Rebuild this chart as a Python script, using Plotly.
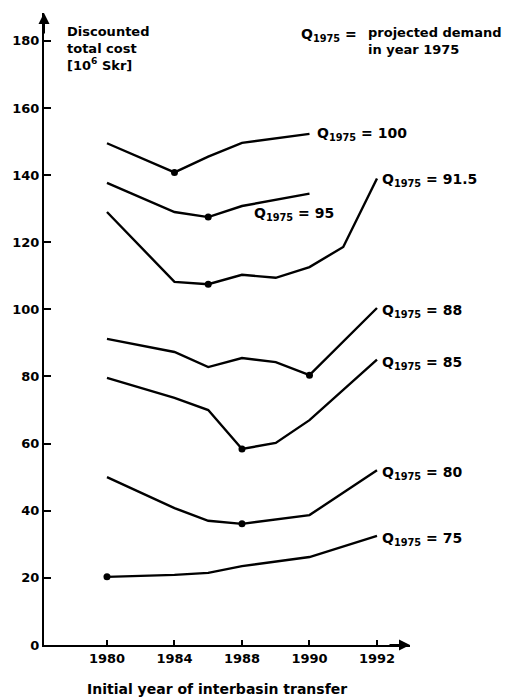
import numpy as np
import plotly.graph_objects as go

# ---- data ----
tick_years = [1980, 1984, 1988, 1990, 1992]
tick_labels = ["1980", "1984", "1988", "1990", "1992"]
y_ticks = [0, 20, 40, 60, 80, 100, 120, 140, 160, 180]

q_labels = ["100", "95", "91.5", "88", "85", "80", "75"]

years_100 = [1980, 1984, 1986, 1988, 1990]
cost_100 = [149.5, 140.8, 145.5, 149.6, 152.3]

years_95 = [1980, 1984, 1986, 1988, 1990]
cost_95 = [137.7, 129.0, 127.5, 130.8, 134.5]

years_915 = [1980, 1984, 1986, 1988, 1989, 1990, 1991, 1992]
cost_915 = [129.0, 108.2, 107.5, 110.3, 109.4, 112.6, 118.6, 139.0]

years_88 = [1980, 1984, 1986, 1988, 1989, 1990, 1992]
cost_88 = [91.2, 87.3, 82.8, 85.5, 84.3, 80.4, 100.4]

years_85 = [1980, 1984, 1986, 1988, 1989, 1990, 1992]
cost_85 = [79.6, 73.6, 70.0, 58.4, 60.2, 67.0, 85.0]

years_80 = [1980, 1984, 1986, 1988, 1990, 1992]
cost_80 = [50.0, 40.8, 37.0, 36.1, 38.7, 52.1]

years_75 = [1980, 1984, 1986, 1988, 1990, 1992]
cost_75 = [20.3, 20.9, 21.5, 23.5, 26.2, 32.5]

opt_years = [1984, 1986, 1986, 1990, 1988, 1988, 1980]
opt_costs = [140.8, 127.5, 107.5, 80.4, 58.4, 36.1, 20.3]

series = [
    (years_100, cost_100), (years_95, cost_95), (years_915, cost_915),
    (years_88, cost_88), (years_85, cost_85), (years_80, cost_80),
    (years_75, cost_75),
]

# The printed axis spaces its labelled years evenly
tick_pos = list(range(len(tick_years)))


def to_pos(years):
    return np.interp(years, tick_years, tick_pos)


FONT = "DejaVu Sans"
fig = go.Figure()

for yrs, cst in series:
    fig.add_trace(go.Scatter(
        x=to_pos(yrs), y=cst, mode="lines",
        line=dict(color="black", width=2.4),
        showlegend=False, hoverinfo="skip"))

fig.add_trace(go.Scatter(
    x=to_pos(opt_years), y=opt_costs, mode="markers",
    marker=dict(color="black", size=7),
    showlegend=False, hoverinfo="skip"))

x_range = [-0.933, 4.489]
y_range = [0, 188.3]

fig.update_xaxes(
    range=x_range, tickmode="array", tickvals=tick_pos,
    ticktext=[f"<b>{t}</b>" for t in tick_labels],
    showline=True, linecolor="black", linewidth=2,
    ticks="inside", ticklen=5, tickwidth=1.5, tickcolor="black",
    showgrid=False, zeroline=False,
    tickfont=dict(family=FONT, size=13, color="black"),
)
fig.update_yaxes(
    range=y_range, tickmode="array", tickvals=y_ticks,
    ticktext=[f"<b>{v}</b>" for v in y_ticks],
    showline=True, linecolor="black", linewidth=2,
    ticks="inside", ticklen=7, tickwidth=1.5, tickcolor="black",
    showgrid=False, zeroline=False,
    tickfont=dict(family=FONT, size=13, color="black"),
)

anns = []
# axis arrows
anns.append(dict(xref="paper", yref="paper", x=0, y=1.0, ax=0, ay=22,
                 showarrow=True, arrowhead=2, arrowsize=1.1, arrowwidth=2,
                 arrowcolor="black", text=""))
anns.append(dict(xref="paper", yref="paper", x=1.0, y=0, ax=-22, ay=0,
                 showarrow=True, arrowhead=2, arrowsize=1.1, arrowwidth=2,
                 arrowcolor="black", text=""))

lab_font = dict(family=FONT, size=14, color="black")


def qtxt(v):
    return f"<b>Q<sub>1975</sub> = {v}</b>"


# curve labels
label_pos = [
    (years_100[-1], cost_100[-1], 6, 0),
    (None, None, 0, 0),
    (years_915[-1], cost_915[-1], 3, -2),
    (years_88[-1], cost_88[-1], 3, -3),
    (years_85[-1], cost_85[-1], 3, -3),
    (years_80[-1], cost_80[-1], 3, -3),
    (years_75[-1], cost_75[-1], 3, -3),
]
for q, (yr, c, dx, dy) in zip(q_labels, label_pos):
    if yr is None:
        continue
    anns.append(dict(x=float(to_pos([yr])[0]), y=c, xref="x", yref="y",
                     text=qtxt(q), showarrow=False, xanchor="left",
                     yanchor="middle", xshift=dx, yshift=dy, font=lab_font))
# Q = 95 label sits under its line
anns.append(dict(x=2.15, y=128.3, xref="x", yref="y", text=qtxt(q_labels[1]),
                 showarrow=False, xanchor="left", yanchor="middle",
                 font=lab_font))

# y-axis title
anns.append(dict(xref="paper", yref="paper", x=(65 - 44) / 366, y=1 + (13 - 22) / 632,
                 text="<b>Discounted<br>total cost<br>[10<sup>6</sup> Skr]</b>",
                 showarrow=False, xanchor="left", yanchor="top", align="left",
                 font=dict(family=FONT, size=13, color="black")))
# legend-like note
anns.append(dict(xref="paper", yref="paper", x=(299 - 44) / 366, y=1 + (13 - 24) / 632,
                 text="<b>Q<sub>1975</sub> =</b>", showarrow=False,
                 xanchor="left", yanchor="top", align="left",
                 font=dict(family=FONT, size=14, color="black")))
anns.append(dict(xref="paper", yref="paper", x=(366 - 44) / 366, y=1 + (13 - 23) / 632,
                 text="<b>projected demand<br>in year 1975</b>", showarrow=False,
                 xanchor="left", yanchor="top", align="left",
                 font=dict(family=FONT, size=13, color="black")))
# x-axis title
anns.append(dict(xref="paper", yref="paper", x=(217 - 44) / 366, y=-(689 - 645) / 632,
                 text="<b>Initial year of interbasin transfer</b>", showarrow=False,
                 xanchor="center", yanchor="middle",
                 font=dict(family=FONT, size=14, color="black")))

# page body keeps an 8 px margin, so the figure is sized to land on the
# reference pixel grid
fig.update_layout(
    width=502, height=690,
    margin=dict(l=36, r=100, t=5, b=53),
    paper_bgcolor="white", plot_bgcolor="white",
    annotations=anns, showlegend=False,
)

fig.write_html("out.html")
